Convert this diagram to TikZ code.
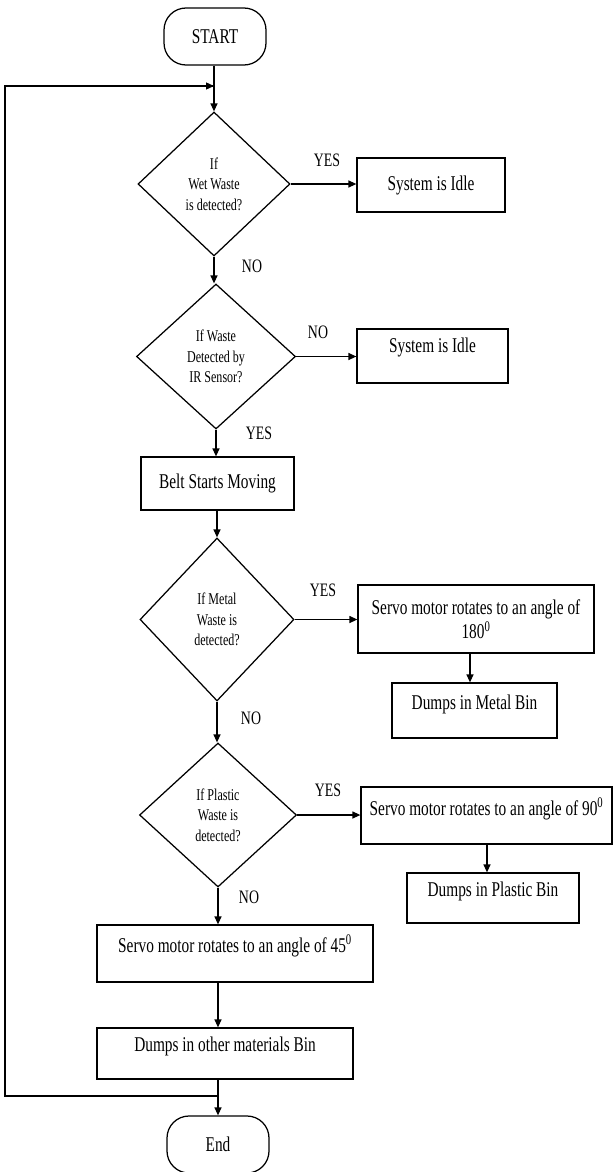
\documentclass[tikz,border=0pt]{standalone}
\usepackage{fontspec}
\setmainfont{Liberation Serif}[FakeStretch=0.73]
\usetikzlibrary{shapes.geometric,arrows.meta}
\tikzset{
  every picture/.style={line width=1.25pt},
  arr/.style={draw, -{Triangle[length=8pt,width=7pt]}},
  plain/.style={draw},
  terminal/.style={draw, rounded corners=22pt, minimum width=102pt, minimum height=57pt, inner sep=0pt, font=\fontsize{21}{25}\selectfont},
  decision/.style={draw, diamond, inner sep=0pt, align=center, font=\fontsize{16.5}{20.5}\selectfont},
  stepbox/.style={draw, rectangle, inner sep=0pt, align=center, font=\fontsize{21}{24.5}\selectfont},
  lbl/.style={inner sep=0pt, font=\fontsize{19}{22}\selectfont},
}
\begin{document}
\begin{tikzpicture}[x=1pt,y=-1pt]
\useasboundingbox (0,0) rectangle (615,1172);
\fill[white] (0,0) rectangle (615,1172);

\node[terminal] (start) at (215,36.5) {START};

\node[decision, minimum width=152pt, minimum height=144pt] (d1) at (214,184) {If\\Wet Waste\\is detected?};
\node[stepbox, minimum width=148pt, minimum height=54pt] (idle1) at (431,185) {System is Idle};

\node[decision, minimum width=159pt, minimum height=145pt] (d2) at (216,356.5) {If Waste\\Detected by\\IR Sensor?};
\node[stepbox, minimum width=151pt, minimum height=54pt, text height=23pt, text depth=31pt] (idle2) at (432.5,356) {System is Idle};

\node[stepbox, minimum width=153pt, minimum height=53pt] (belt) at (217.5,483.5) {Belt Starts Moving};

\node[decision, minimum width=154pt, minimum height=163pt] (d3) at (217,619.5) {If Metal\\Waste is\\detected?};
\node[stepbox, minimum width=236pt, minimum height=68pt] (s180) at (476,619) {Servo motor rotates to an angle of\\180\textsuperscript{0}};
\node[stepbox, minimum width=165pt, minimum height=55pt, text height=26pt, text depth=29pt] (metal) at (474.5,710.5) {Dumps in Metal Bin};

\node[decision, minimum width=157pt, minimum height=144pt] (d4) at (218,815) {If Plastic\\Waste is\\detected?};
\node[stepbox, minimum width=251pt, minimum height=57pt, text height=28pt, text depth=29pt] (s90) at (486.5,815.5) {Servo motor rotates to an angle of 90\textsuperscript{0}};
\node[stepbox, minimum width=172pt, minimum height=50pt, text height=23pt, text depth=27pt] (plastic) at (493,898) {Dumps in Plastic Bin};

\node[stepbox, minimum width=276pt, minimum height=57pt, text height=27pt, text depth=30pt] (s45) at (235,953.5) {Servo motor rotates to an angle of 45\textsuperscript{0}};
\node[stepbox, minimum width=256pt, minimum height=51pt, text height=23pt, text depth=28pt] (other) at (225,1053.5) {Dumps in other materials Bin};

\node[terminal] (endn) at (218,1144.5) {End};

% labels
\node[lbl] (y1) at (327,160) {YES};
\node[lbl] (n1) at (252,266) {NO};
\node[lbl] (n2) at (318,332) {NO};
\node[lbl] (y2) at (259,433) {YES};
\node[lbl] (y3) at (323,590) {YES};
\node[lbl] (n3) at (251,718) {NO};
\node[lbl] (y4) at (328,790) {YES};
\node[lbl] (n4) at (249,897) {NO};

% main connectors
\draw[arr] (start.south -| d1.north) -- (d1.north);
\draw[arr] (d1.east) -- (idle1.west |- d1.east);
\draw[arr] (d1.south) -- (d1.south |- d2.north);
\draw[arr] (d2.east) -- (idle2.west |- d2.east);
\draw[arr] (d2.south) -- (d2.south |- belt.north);
\draw[arr] (belt.south -| d3.north) -- (d3.north);
\draw[arr] (d3.east) -- (s180.west |- d3.east);
\draw[arr] (s180.south -| 470,0) -- (metal.north -| 470,0);
\draw[arr] (d3.south) -- (d3.south |- d4.north);
\draw[arr] (d4.east) -- (s90.west |- d4.east);
\draw[arr] (s90.south -| 487,0) -- (plastic.north -| 487,0);
\draw[arr] (d4.south) -- (d4.south |- s45.north);
\draw[arr] (s45.south -| d4.south) -- (other.north -| d4.south);
\draw[arr] (other.south -| endn.north) -- (endn.north);

% loop back
\coordinate (jb) at (218,1096);
\coordinate (lb) at (5,1096);
\coordinate (lt) at (5,86);
\coordinate (jt) at (214,86);
\draw[plain] (jb) -- (lb) -- (lt) -- (jt);
\draw[arr] (lt) -- (jt);
\end{tikzpicture}
\end{document}
